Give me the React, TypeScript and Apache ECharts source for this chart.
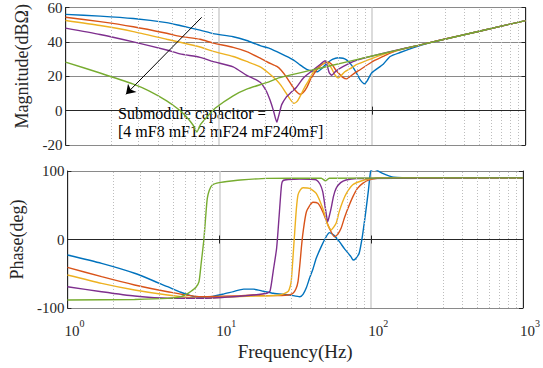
import React, { useEffect, useRef } from "react";
import * as echarts from "echarts";

const FONT = "'Liberation Serif', 'Times New Roman', serif";

const COLORS = ["#0072BD", "#D95319", "#EDB120", "#7E2F8E", "#77AC30"];
const SERIES_NAMES = ["4 mF", "8 mF", "12 mF", "24 mF", "240 mF"];

const xTicks = [1, 10, 100, 1000];
const minorFreqs = [2, 3, 4, 5, 6, 7, 8, 9, 20, 30, 40, 50, 60, 70, 80, 90, 200, 300, 400, 500, 600, 700, 800, 900];

// Magnitude (dBΩ) — [frequency Hz, value]
const magBlue = [[1,56],[1.68,55],[2.77,53.6],[4.57,51.2],[5.58,49.5],[7.54,46.8],[9.2,44.8],[12.4,43],[15.2,40.8],[18.6,37.8],[21,36.5],[23.9,34.3],[27,32],[30.6,29.5],[34,26.5],[37.4,24],[41.4,22.8],[44,22.6],[47,24.5],[50.6,27.5],[55,29.8],[60,30.8],[64.6,30.5],[68,29.5],[71.8,27.5],[76,24.5],[80,21],[83.4,18],[89,15.6],[93,17.5],[99.4,22],[118,27],[131,31.5],[152,33.8],[200,37.5],[250,40],[300,41.6],[500,46.2],[1000,52.4]];
const magOrange = [[1,54.3],[1.68,51.8],[2.77,48.8],[4.57,45],[5.58,43.2],[7.54,41.5],[9.2,39.3],[12.4,36.8],[15.2,34.3],[18.6,30.5],[21,28],[23.9,25.7],[25.5,23.5],[27.6,19.5],[30.6,13.3],[32.5,10.5],[34,9.5],[35.5,10.5],[37.5,13.5],[39.5,18],[41.4,21],[43.5,23.8],[47,26.8],[51.8,28.2],[55,26.5],[58,23.5],[60.2,22],[64,19.5],[68.3,18.5],[72,20],[78,22.3],[83.4,23.8],[99.4,28.3],[118,31.5],[131,33.5],[152,35.5],[200,38],[300,41.7],[500,46.2],[1000,52.4]];
const magYellow = [[1,52.4],[1.68,49.5],[2.77,46],[4.57,41.5],[5.58,39.8],[7.54,37],[9.2,34.5],[12.4,31.5],[15.2,28.6],[18.6,25.5],[21,22],[23.9,17.5],[25.5,14.5],[28,9],[30.9,4.2],[32.5,5.5],[34.2,9],[36,13],[38.5,17.5],[41.4,22.5],[45,26],[50.6,28.2],[54,25],[57,21],[60.2,19],[63,20.5],[66,22.5],[71.8,24.4],[80,27],[99.4,30.3],[131,34],[200,38],[300,41.7],[500,46.2],[1000,52.4]];
const magPurple = [[1,48],[1.68,44.3],[2.77,40],[4.57,35.3],[5.58,33],[7.54,31],[9.2,28.5],[12.4,25.5],[15.2,20.5],[17,18.5],[18.6,16.5],[19.5,14.3],[20.5,11],[21.6,6],[22.7,0],[23.4,-4.5],[23.9,-6.7],[24.4,-4],[25.07,0],[25.7,3.5],[27.6,8],[29.1,10],[32,13.5],[35.6,19],[41.4,23.8],[46,27],[49.3,29],[51,26],[52.5,22],[54.5,20.6],[58,23],[64.9,25.7],[75,28.5],[87.6,30.5],[131,34.3],[200,38],[300,41.7],[500,46.2],[1000,52.4]];
const magGreen = [[1,28.2],[1.68,21.9],[2.77,15.4],[3.5,11.5],[4.57,5.7],[5.5,0.5],[6.18,-3.8],[6.8,-8.5],[7.18,-12.4],[7.6,-8],[8.34,-3.8],[9.5,1.5],[12.4,8.6],[15.2,12.5],[20.5,16.3],[25,19.2],[50,25.5],[100,31.8],[200,38],[500,46.2],[1000,52.4]];

// Phase (deg) — [frequency Hz, value]
const phBlue = [[1,-22.6],[1.68,-34.8],[2.77,-49.3],[4.57,-68.9],[5.58,-77],[6.49,-82],[7.54,-85],[9,-83],[10.5,-80],[12.4,-76],[14.5,-72.5],[16.8,-72.5],[19.5,-75.5],[22.7,-78.5],[29.1,-81],[33.9,-83.5],[35.6,-80],[37.5,-70],[39.3,-56.7],[41.4,-43],[43.5,-27.5],[47,-10],[50.6,4],[53.1,10],[57,6],[61.8,-3.2],[67,-14],[73.6,-25],[76.2,-30],[79,-28],[83.4,-20],[87.6,5],[92.2,40.6],[96,72],[99.4,100],[104,103],[118,97],[141,91],[200,90],[1000,90]];
const phOrange = [[1,-40.6],[1.68,-54.3],[2.77,-66.4],[4.57,-76.2],[7.54,-83.5],[12.4,-82.5],[16.8,-81],[22.7,-82],[28.4,-81],[30.6,-78.5],[32,-72],[33,-61.6],[34,-35],[34.7,-12.8],[35.6,10],[37.5,40.6],[41.4,54.3],[44.6,52.8],[48,40.6],[53.1,16.3],[57.3,4.1],[60,7],[63.4,16.3],[67,33],[71.8,50.4],[76,63],[81.3,74.7],[88,82],[96.9,87],[110,89.5],[1000,90]];
const phYellow = [[1,-51.8],[1.68,-64],[2.77,-73.7],[4.57,-81],[7.54,-85.8],[12.4,-83.5],[18.6,-82.5],[25,-81],[28.4,-76],[29.5,-66],[29.9,-56.7],[30.6,-25],[31.4,11.4],[32.2,45],[33,65],[34.2,72.5],[35.6,75.6],[39.3,74.7],[43.5,67.4],[48,45.5],[51.8,21.2],[54.5,13.9],[58.8,23.6],[61.5,40],[64.9,55.2],[69,68],[75.4,79.6],[85,85],[96.9,88.3],[120,89.8],[1000,90]];
const phPurple = [[1,-68.9],[1.68,-76.2],[2.77,-82.5],[4.57,-85.8],[7.54,-85.8],[12.4,-83.5],[16.8,-81],[20.5,-78.5],[21.6,-75.2],[22.7,-45],[23.86,-12.8],[24.8,35],[25.7,79.6],[26.3,86],[28.4,87.5],[33.9,88.3],[40,88],[43.5,86.9],[46,81],[48,69.8],[50,45],[51.8,26],[53,34],[54.5,45.5],[56.5,63],[58.8,74.7],[63,83],[68.3,86.9],[80,89],[1000,90]];
const phGreen = [[1,-88.3],[2.77,-87.5],[4.57,-86],[5.58,-83.5],[6.18,-79],[6.49,-76],[7,-70],[7.35,-62],[7.6,-35],[7.92,0],[8.15,35],[8.34,60],[8.6,72],[8.99,79.6],[10,83],[12.4,85.8],[13.75,86.9],[20.5,89.3],[30,89.5],[47,89.5],[50,85.5],[53,89.5],[1000,90]];

const magData = [magBlue, magOrange, magYellow, magPurple, magGreen];
const phData = [phBlue, phOrange, phYellow, phPurple, phGreen];

// annotation arrow (data coords of magnitude plot)
const arrowStart = [7.73, 54.3];
const arrowEnd = [2.48, 9.5];
const annotationLines = ["Submodule capacitor =", "[4 mF8 mF12 mF24 mF240mF]"];

export default function App() {
  const ref = useRef<HTMLDivElement>(null);
  useEffect(() => {
    if (!ref.current) return;
    const chart = echarts.init(ref.current, null, { renderer: "svg" });
    const grids = [
      { left: 65.5, top: 5, width: 460, height: 140 },
      { left: 65.5, top: 171, width: 460, height: 137 },
    ];
    const axisColor = "#262626";
    const xAxisBase = (gi: number, showLabels: boolean) => ({
      type: "log",
      logBase: 10,
      gridIndex: gi,
      min: 1,
      max: 1000,
      axisLine: { show: true, lineStyle: { color: axisColor, width: 1 } },
      axisTick: { show: true, inside: true, length: 4, lineStyle: { color: axisColor } },
      splitLine: { show: true, lineStyle: { color: "#cfcfcf", width: 1.5 } },
      axisLabel: showLabels
        ? {
            show: true,
            margin: 10,
            padding: [0, 0, 0, 14],
            formatter: (v: number) => `{b|10}{s|${Math.round(Math.log10(v))}}`,
            rich: {
              b: { fontFamily: FONT, fontSize: 15, color: axisColor, lineHeight: 20, verticalAlign: "bottom" },
              s: { fontFamily: FONT, fontSize: 10, color: axisColor, lineHeight: 10, verticalAlign: "top" },
            },
          }
        : { show: false },
    });
    const xTop = (gi: number) => ({
      type: "log",
      logBase: 10,
      gridIndex: gi,
      position: "top",
      min: 1,
      max: 1000,
      axisLine: { show: true, lineStyle: { color: axisColor, width: 1 } },
      axisTick: { show: true, inside: true, length: 4, lineStyle: { color: axisColor } },
      splitLine: { show: false },
      axisLabel: { show: false },
    });
    const yAxisBase = (gi: number, min: number, max: number, interval: number, name: string, pad: number[]) => ({
      type: "value",
      gridIndex: gi,
      min,
      max,
      interval,
      name,
      nameLocation: "middle",
      nameGap: 35,
      nameTextStyle: { fontFamily: FONT, fontSize: 18, color: axisColor, padding: pad },
      axisLine: { show: true, lineStyle: { color: axisColor, width: 1 } },
      axisTick: { show: true, inside: true, length: 4, lineStyle: { color: axisColor } },
      splitLine: { show: true, lineStyle: { color: "#8a8a8a", width: 1 } },
      axisLabel: { fontFamily: FONT, fontSize: 15, color: axisColor, margin: 3 },
    });
    const yRight = (gi: number, min: number, max: number, interval: number) => ({
      type: "value",
      gridIndex: gi,
      position: "right",
      min,
      max,
      interval,
      axisLine: { show: true, lineStyle: { color: axisColor, width: 1 } },
      axisTick: { show: true, inside: true, length: 4, lineStyle: { color: axisColor } },
      splitLine: { show: false },
      axisLabel: { show: false },
    });

    const minorSeries = (xi: number, yi: number) => ({
      type: "line",
      xAxisIndex: xi,
      yAxisIndex: yi,
      data: [],
      silent: true,
      markLine: {
        silent: true,
        symbol: "none",
        label: { show: false },
        lineStyle: { color: "#bdbdbd", width: 1, type: [1, 2] },
        data: minorFreqs.map((f) => ({ xAxis: f })),
      },
    });

    const series: any[] = [minorSeries(0, 0), minorSeries(1, 1)];
    magData.forEach((d, i) => {
      series.push({
        type: "line",
        name: SERIES_NAMES[i],
        xAxisIndex: 0,
        yAxisIndex: 0,
        data: d,
        showSymbol: false,
        smooth: 0.2,
        lineStyle: { color: COLORS[i], width: 1.4 },
        itemStyle: { color: COLORS[i] },
      });
    });
    phData.forEach((d, i) => {
      series.push({
        type: "line",
        name: SERIES_NAMES[i],
        xAxisIndex: 2,
        yAxisIndex: 2,
        data: d,
        showSymbol: false,
        smooth: 0.2,
        lineStyle: { color: COLORS[i], width: 1.4 },
        itemStyle: { color: COLORS[i] },
      });
    });
    // arrow annotation
    series.push({
      type: "line",
      xAxisIndex: 0,
      yAxisIndex: 0,
      data: [],
      silent: true,
      markLine: {
        silent: true,
        symbol: ["none", "arrow"],
        symbolSize: 9,
        label: { show: false },
        lineStyle: { color: "#000", width: 1, type: "solid" },
        data: [[{ coord: arrowStart }, { coord: arrowEnd }]],
      },
    });

    chart.setOption({
      animation: false,
      backgroundColor: "#fff",
      grid: grids,
      xAxis: [xAxisBase(0, false), xTop(0), xAxisBase(1, true), xTop(1)],
      yAxis: [
        yAxisBase(0, -20, 60, 20, "Magnitude(dBΩ)", [0, 0, 0, 20]),
        yRight(0, -20, 60, 20),
        yAxisBase(1, -100, 100, 100, "Phase(deg)", [0, 0, 0, 0]),
        yRight(1, -100, 100, 100),
      ],
      series: series.map((s) => {
        if (s.xAxisIndex === 1 && s.yAxisIndex === 1) return { ...s, xAxisIndex: 2, yAxisIndex: 2 };
        return s;
      }),
      graphic: [
        {
          type: "text",
          left: 118,
          top: 104,
          style: {
            text: annotationLines.join("\n"),
            font: `16px ${FONT}`,
            fill: "#000",
            lineHeight: 18,
          },
        },
      ],
    });
    // name for frequency axis
    chart.setOption({
      xAxis: [
        {},
        {},
        {
          name: "Frequency(Hz)",
          nameLocation: "middle",
          nameGap: 34,
          nameTextStyle: { fontFamily: FONT, fontSize: 19, color: axisColor },
        },
        {},
      ],
    });
    return () => chart.dispose();
  }, []);
  return (
    <div
      ref={ref}
      style={{ position: "absolute", left: 0, top: 0, width: 543, height: 368, background: "#fff" }}
    />
  );
}
